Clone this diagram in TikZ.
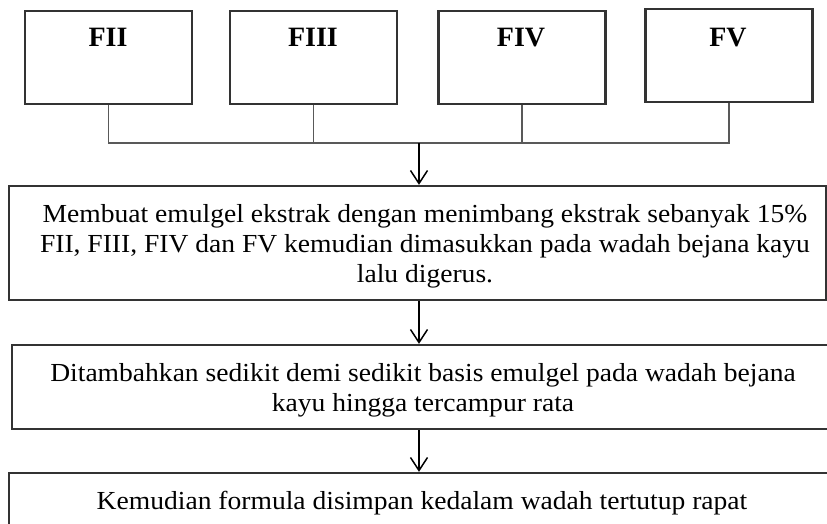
\documentclass[tikz,border=0pt]{standalone}
\usepackage{fontspec}
\setmainfont{Liberation Serif}
\newfontfamily\widefont[FakeStretch=1.06]{Liberation Serif}
\usetikzlibrary{arrows.meta}
\begin{document}
\begin{tikzpicture}[x=1pt,y=-1pt,
  fbox/.style={draw=black!80,line width=2.3pt,minimum width=167pt,minimum height=93pt,inner sep=0pt},
  flabel/.style={font=\fontsize{28}{30}\selectfont\bfseries,anchor=base,inner sep=0pt},
  stepbox/.style={draw=black!80,line width=2.3pt,inner sep=0pt},
  steptext/.style={align=center,inner sep=0pt,font=\widefont\fontsize{26}{30}\selectfont},
  link/.style={draw=black!65,line width=1.2pt},
  arr/.style={line width=1.5pt,-{Straight Barb[length=13pt,width=17pt,line width=1.5pt]}}]
\useasboundingbox (0,0) rectangle (827,524);
\clip (0,0) rectangle (827,524);
% top boxes
\node[fbox] (f2) at (108.5,57.5) {};
\node[fbox] (f3) at (313.5,57.5) {};
\node[fbox] (f4) at (522,57.5) {};
\node[fbox] (f5) at (729,55.5) {};
\node[flabel] (l2) at (108,47) {FII};
\node[flabel] (l3) at (313,47) {FIII};
\node[flabel] (l4) at (521,47) {FIV};
\node[flabel] (l5) at (728,47) {FV};
% step boxes
\node[stepbox,minimum width=817pt,minimum height=114pt] (b1) at (417.5,243) {};
\node[stepbox,minimum width=824pt,minimum height=84pt] (b2) at (424,387) {};
\node[stepbox,minimum width=826pt,minimum height=84pt] (b3) at (422,515) {};
\node[steptext] (t1) at (425,246) {Membuat emulgel ekstrak dengan menimbang ekstrak sebanyak 15\%\\FII, FIII, FIV dan FV kemudian dimasukkan pada wadah bejana kayu\\lalu digerus.};
\node[steptext] (t2) at (423,390) {Ditambahkan sedikit demi sedikit basis emulgel pada wadah bejana\\kayu hingga tercampur rata};
\node[steptext] (t3) at (422,503) {Kemudian formula disimpan kedalam wadah tertutup rapat};
% connectors
\coordinate (j) at (419,143);
\draw[link] (f2.south) -- (f2.south |- j) -- (f5.south |- j) -- (f5.south);
\draw[link] (f3.south) -- (f3.south |- j);
\draw[link] (f4.south) -- (f4.south |- j);
\draw[arr] (j) -- (j |- b1.north);
\draw[arr] (b1.south -| j) -- (b2.north -| j);
\draw[arr] (b2.south -| j) -- (b3.north -| j);
\end{tikzpicture}
\end{document}
